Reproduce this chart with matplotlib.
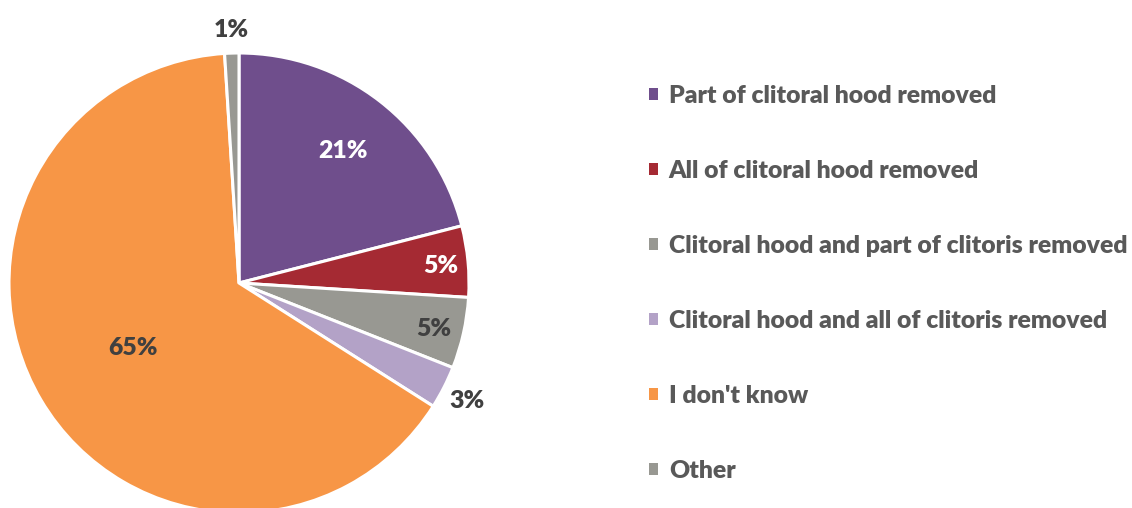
import matplotlib
matplotlib.use("Agg")
import matplotlib.pyplot as plt
import numpy as np

categories = ["Part of clitoral hood removed",
              "All of clitoral hood removed",
              "Clitoral hood and part of clitoris removed",
              "Clitoral hood and all of clitoris removed",
              "I don't know",
              "Other"]
values = [21, 5, 5, 3, 65, 1]
colors = ["#6F4E8C", "#A52A33", "#989892", "#B3A2C7", "#F79646", "#989892"]
label_colors = ["white", "white", "#404040", "#404040", "#404040", "#404040"]

plt.rcParams['font.family'] = ['Lato', 'DejaVu Sans']

W, H = 1132, 508
fig = plt.figure(figsize=(W / 100, H / 100), dpi=100)
ax = fig.add_axes([0, 0, 1, 1])

cx, cy, r = 239, H - 283, 230
wedges, _ = ax.pie(values, colors=colors, startangle=90, counterclock=False,
                   center=(cx, cy), radius=r, frame=True,
                   wedgeprops=dict(edgecolor='white', linewidth=2.2))
ax.set_xlim(0, W)
ax.set_ylim(0, H)
ax.set_aspect('equal')
ax.axis('off')

FS = 17.8
label_dist = [0.735, 0.88, 0.87, 1.11, 0.535, 1.11]
for w, v, d, c in zip(wedges, values, label_dist, label_colors):
    ang = np.deg2rad((w.theta1 + w.theta2) / 2)
    x = cx + d * r * np.cos(ang)
    y = cy + d * r * np.sin(ang)
    ax.text(x, y, f"{v}%", ha='center', va='center_baseline', color=c,
            fontsize=FS, fontweight='heavy')

leg = ax.legend(wedges, categories, loc='upper left', bbox_to_anchor=(649 / W, 1 - 85 / H),
                frameon=False, prop=dict(size=FS, weight='heavy'),
                labelcolor='#595959', handlelength=0.38, handleheight=0.38,
                handletextpad=0.42, labelspacing=2.14, borderpad=0, borderaxespad=0)
for h in leg.legend_handles:
    h.set_linewidth(0)

fig.savefig("out.png", dpi=100, facecolor='white')
